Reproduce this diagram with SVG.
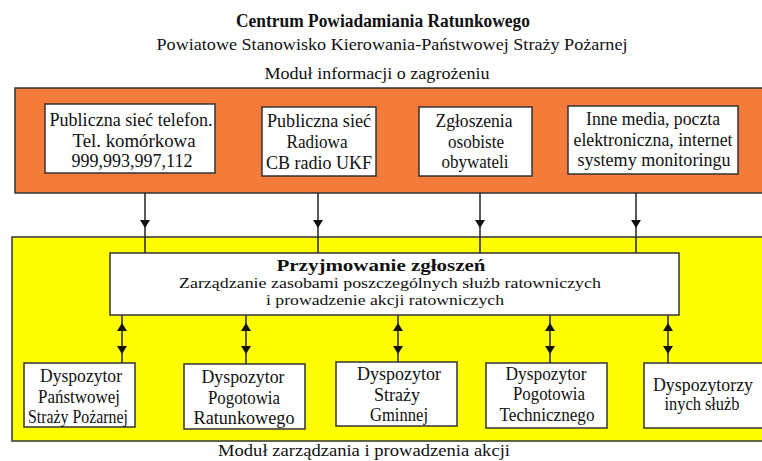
<svg xmlns="http://www.w3.org/2000/svg" width="762" height="461" viewBox="0 0 762 461">
  <defs>
    <style>
      text { font-family: "Liberation Serif", "Times New Roman", serif; fill: #111; text-anchor: middle; }
      .t { font-size: 18px; }
      .s { font-size: 17px; }
      .m { font-size: 15px; }
      .h { font-size: 18px; font-weight: bold; }
      .hb { font-size: 16px; font-weight: bold; }
      .box { fill: #fff; stroke: #333; stroke-width: 1.5; }
      .panel { stroke: #333; stroke-width: 1.5; }
      .link { stroke: #222; stroke-width: 1.5; fill: none; }
      .head { fill: #111; }
    </style>
  </defs>
  <rect width="762" height="461" fill="#fff"/>

  <!-- header -->
  <g id="header">
    <text x="383" y="27" class="h" textLength="294" lengthAdjust="spacingAndGlyphs">Centrum Powiadamiania Ratunkowego</text>
    <text x="392" y="50" class="s" textLength="471" lengthAdjust="spacingAndGlyphs">Powiatowe Stanowisko Kierowania-Państwowej Straży Pożarnej</text>
    <text x="377" y="79" class="s" textLength="225" lengthAdjust="spacingAndGlyphs">Moduł informacji o zagrożeniu</text>
  </g>

  <!-- panels -->
  <g id="panel-info">
    <rect x="15" y="88" width="760" height="105" fill="#F47B3A" class="panel"/>
  </g>
  <g id="panel-management">
    <rect x="12" y="237" width="763" height="204" fill="#FFFF00" class="panel"/>
    <text x="364" y="456" class="s" textLength="292" lengthAdjust="spacingAndGlyphs">Moduł zarządzania i prowadzenia akcji</text>
  </g>

  <!-- connectors -->
  <g id="connectors">
    <line class="link" x1="145" y1="193" x2="145" y2="253"/>
    <line class="link" x1="318" y1="193" x2="318" y2="253"/>
    <line class="link" x1="480" y1="193" x2="480" y2="253"/>
    <line class="link" x1="636" y1="193" x2="636" y2="253"/>
    <path class="head" d="M140,220 L150,220 L145,228 Z"/>
    <path class="head" d="M313,220 L323,220 L318,228 Z"/>
    <path class="head" d="M475,220 L485,220 L480,228 Z"/>
    <path class="head" d="M631,220 L641,220 L636,228 Z"/>
    <line class="link" x1="122" y1="315" x2="122" y2="363"/>
    <line class="link" x1="246" y1="315" x2="246" y2="364"/>
    <line class="link" x1="398" y1="315" x2="398" y2="362"/>
    <line class="link" x1="550" y1="315" x2="550" y2="363"/>
    <line class="link" x1="668" y1="315" x2="668" y2="363"/>
    <path class="head" d="M117,331 L127,331 L122,323 Z"/><path class="head" d="M117,346 L127,346 L122,354 Z"/>
    <path class="head" d="M241,331 L251,331 L246,323 Z"/><path class="head" d="M241,346 L251,346 L246,354 Z"/>
    <path class="head" d="M393,331 L403,331 L398,323 Z"/><path class="head" d="M393,346 L403,346 L398,354 Z"/>
    <path class="head" d="M545,331 L555,331 L550,323 Z"/><path class="head" d="M545,346 L555,346 L550,354 Z"/>
    <path class="head" d="M663,331 L673,331 L668,323 Z"/><path class="head" d="M663,346 L673,346 L668,354 Z"/>
  </g>

  <!-- source nodes -->
  <g id="src-phone">
    <rect x="45" y="104" width="170" height="69" class="box"/>
    <text x="131" y="126" class="t" textLength="163" lengthAdjust="spacingAndGlyphs">Publiczna sieć telefon.</text>
    <text x="134" y="147" class="t" textLength="123" lengthAdjust="spacingAndGlyphs">Tel. komórkowa</text>
    <text x="132" y="167" class="t" textLength="121" lengthAdjust="spacingAndGlyphs">999,993,997,112</text>
  </g>
  <g id="src-radio">
    <rect x="262" y="107" width="114" height="69" class="box"/>
    <text x="319" y="127" class="t" textLength="104" lengthAdjust="spacingAndGlyphs">Publiczna sieć</text>
    <text x="317" y="148" class="t" textLength="61" lengthAdjust="spacingAndGlyphs">Radiowa</text>
    <text x="319" y="169" class="t" textLength="106" lengthAdjust="spacingAndGlyphs">CB radio UKF</text>
  </g>
  <g id="src-personal">
    <rect x="419" y="107" width="113" height="69" class="box"/>
    <text x="474" y="127" class="t" textLength="77" lengthAdjust="spacingAndGlyphs">Zgłoszenia</text>
    <text x="476" y="148" class="t" textLength="56" lengthAdjust="spacingAndGlyphs">osobiste</text>
    <text x="475" y="168" class="t" textLength="67" lengthAdjust="spacingAndGlyphs">obywateli</text>
  </g>
  <g id="src-media">
    <rect x="568" y="106" width="170" height="68" class="box"/>
    <text x="653" y="125" class="t" textLength="134" lengthAdjust="spacingAndGlyphs">Inne media, poczta</text>
    <text x="653" y="146" class="t" textLength="159" lengthAdjust="spacingAndGlyphs">elektroniczna, internet</text>
    <text x="654" y="166" class="t" textLength="153" lengthAdjust="spacingAndGlyphs">systemy monitoringu</text>
  </g>

  <!-- central node -->
  <g id="intake">
    <rect x="110" y="253" width="569" height="62" class="box"/>
    <text x="381" y="271" class="hb" textLength="209" lengthAdjust="spacingAndGlyphs">Przyjmowanie zgłoszeń</text>
    <text x="390" y="288" class="m" textLength="422" lengthAdjust="spacingAndGlyphs">Zarządzanie zasobami poszczególnych służb ratowniczych</text>
    <text x="385" y="305" class="m" textLength="238" lengthAdjust="spacingAndGlyphs">i prowadzenie akcji ratowniczych</text>
  </g>

  <!-- dispatcher nodes -->
  <g id="disp-psp">
    <rect x="24" y="363" width="111" height="64" class="box"/>
    <text x="81" y="382" class="t" textLength="82" lengthAdjust="spacingAndGlyphs">Dyspozytor</text>
    <text x="79" y="403" class="t" textLength="82" lengthAdjust="spacingAndGlyphs">Państwowej</text>
    <text x="78" y="423" class="t" textLength="100" lengthAdjust="spacingAndGlyphs">Straży Pożarnej</text>
  </g>
  <g id="disp-ambulance">
    <rect x="184" y="364" width="121" height="65" class="box"/>
    <text x="243" y="383" class="t" textLength="83" lengthAdjust="spacingAndGlyphs">Dyspozytor</text>
    <text x="244" y="404" class="t" textLength="72" lengthAdjust="spacingAndGlyphs">Pogotowia</text>
    <text x="244" y="424" class="t" textLength="101" lengthAdjust="spacingAndGlyphs">Ratunkowego</text>
  </g>
  <g id="disp-municipal">
    <rect x="336" y="362" width="121" height="64" class="box"/>
    <text x="399" y="380" class="t" textLength="84" lengthAdjust="spacingAndGlyphs">Dyspozytor</text>
    <text x="397" y="401" class="t" textLength="46" lengthAdjust="spacingAndGlyphs">Straży</text>
    <text x="399" y="421" class="t" textLength="58" lengthAdjust="spacingAndGlyphs">Gminnej</text>
  </g>
  <g id="disp-technical">
    <rect x="486" y="363" width="121" height="65" class="box"/>
    <text x="546" y="380" class="t" textLength="81" lengthAdjust="spacingAndGlyphs">Dyspozytor</text>
    <text x="549" y="400" class="t" textLength="72" lengthAdjust="spacingAndGlyphs">Pogotowia</text>
    <text x="547" y="421" class="t" textLength="95" lengthAdjust="spacingAndGlyphs">Technicznego</text>
  </g>
  <g id="disp-other">
    <rect x="644" y="363" width="130" height="65" class="box"/>
    <text x="703" y="391" class="t" textLength="100" lengthAdjust="spacingAndGlyphs">Dyspozytorzy</text>
    <text x="702" y="410" class="t" textLength="75" lengthAdjust="spacingAndGlyphs">inych służb</text>
  </g>
</svg>
